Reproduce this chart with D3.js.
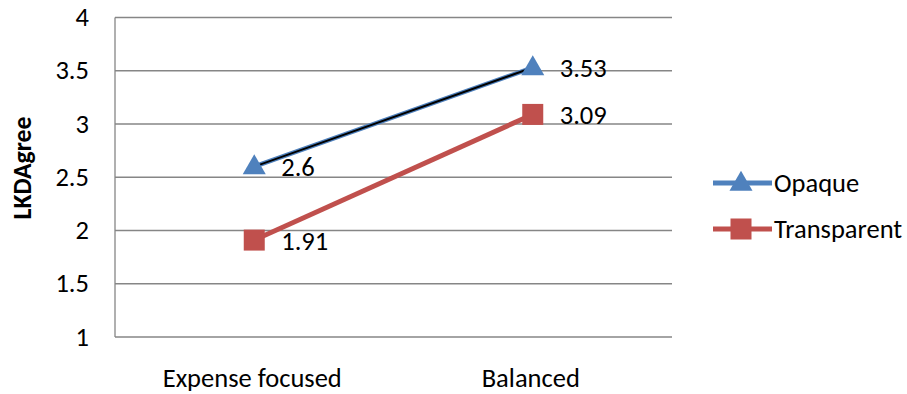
<!DOCTYPE html>
<html><head><meta charset="utf-8">
<script src="https://cdn.jsdelivr.net/npm/d3@7"></script>
<style>body{margin:0;background:#fff;} text{font-family:Carlito, Calibri, Lato, sans-serif;}</style>
</head><body>
<svg id="c" width="907" height="394"></svg>
<script>
const categories = ["Expense focused", "Balanced"];
const opaque = [2.6, 3.53];
const transparent = [1.91, 3.09];
const yTicks = [1, 1.5, 2, 2.5, 3, 3.5, 4];
const seriesNames = ["Opaque", "Transparent"];

const svg = d3.select("#c");
const L = 115, R = 672, T = 17.5, B = 337;
const x = d3.scaleBand().domain(categories).range([L, R]);
const y = d3.scaleLinear().domain([1, 4]).range([B, T]);
const fs = "26.5px";
const sq = 21;

// gridlines
svg.append("g").selectAll("line").data(yTicks.filter(d => d > 1)).join("line")
  .attr("x1", L).attr("x2", R).attr("y1", d => y(d)).attr("y2", d => y(d))
  .attr("stroke", "#868686").attr("stroke-width", 1.3);
// axes lines
svg.append("line").attr("x1", L).attr("x2", L).attr("y1", T).attr("y2", B).attr("stroke", "#868686").attr("stroke-width", 1.3);
svg.append("line").attr("x1", L).attr("x2", R).attr("y1", B).attr("y2", B).attr("stroke", "#868686").attr("stroke-width", 1.3);

// y tick labels
svg.append("g").selectAll("text").data(yTicks).join("text")
  .attr("x", 89).attr("y", d => y(d)).attr("dy", "0.33em").attr("text-anchor", "end")
  .attr("font-size", fs).attr("fill", "#000").text(d => d);
// x labels
svg.append("g").selectAll("text").data(categories).join("text")
  .attr("x", d => x(d) + x.bandwidth() / 2 - 2).attr("y", 387).attr("text-anchor", "middle")
  .attr("font-size", fs).attr("fill", "#000").text(d => d);
// y title
svg.append("text").attr("transform", "translate(31,168) rotate(-90)").attr("text-anchor", "middle")
  .attr("font-size", "25.7px").attr("font-weight", "bold").text("LKDAgree");

const cx = d => x(d) + x.bandwidth() / 2;
const line = d3.line().x(d => cx(d[0])).y(d => y(d[1]));
const opData = categories.map((c, i) => [c, opaque[i]]);
const trData = categories.map((c, i) => [c, transparent[i]]);

// transparent
svg.append("path").attr("d", line(trData)).attr("fill", "none").attr("stroke", "#C0504D").attr("stroke-width", 5);
svg.append("g").selectAll("rect").data(trData).join("rect")
  .attr("x", d => cx(d[0]) - sq / 2).attr("y", d => y(d[1]) - sq / 2).attr("width", sq).attr("height", sq)
  .attr("fill", "#C0504D");
// opaque
svg.append("path").attr("d", line(opData)).attr("fill", "none").attr("stroke", "#4F81BD").attr("stroke-width", 4.5);
svg.append("path").attr("d", line(opData)).attr("fill", "none").attr("stroke", "#000").attr("stroke-width", 2);
const tri = d3.symbol().type(d3.symbolTriangle).size(230);
svg.append("g").selectAll("path").data(opData).join("path")
  .attr("transform", d => `translate(${cx(d[0])},${y(d[1]) + 1})`).attr("d", tri).attr("fill", "#4F81BD");

// data labels
const labs = opData.concat(trData);
svg.append("g").selectAll("text").data(labs).join("text")
  .attr("x", d => cx(d[0]) + 27).attr("y", d => y(d[1]) + 1).attr("dy", "0.33em")
  .attr("font-size", fs).attr("fill", "#000").text(d => d[1]);

// legend
const lg = svg.append("g");
const lgY = [183, 229];
const cols = ["#4F81BD", "#C0504D"];
seriesNames.forEach((n, i) => {
  lg.append("line").attr("x1", 713).attr("x2", 772).attr("y1", lgY[i]).attr("y2", lgY[i]).attr("stroke", cols[i]).attr("stroke-width", 5);
  if (i === 0) lg.append("path").attr("transform", `translate(741,${lgY[i] + 1})`).attr("d", tri).attr("fill", cols[i]);
  else lg.append("rect").attr("x", 741 - sq / 2).attr("y", lgY[i] - sq / 2).attr("width", sq).attr("height", sq).attr("fill", cols[i]);
  lg.append("text").attr("x", 774).attr("y", lgY[i]).attr("dy", "0.33em").attr("font-size", fs).text(n);
});
</script>
</body></html>
